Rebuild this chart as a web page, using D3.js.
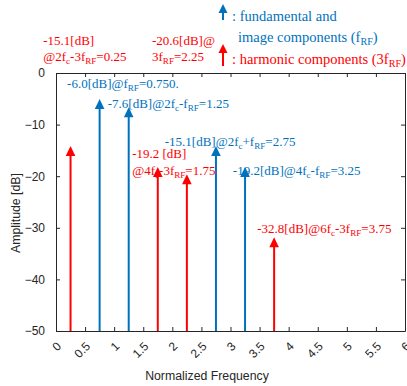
<!DOCTYPE html>
<html>
<head>
<meta charset="utf-8">
<script src="https://cdn.jsdelivr.net/npm/d3@7"></script>
<style>
  body { margin: 0; background: #fff; }
  .axis text { font-family: "Liberation Sans", Arial, sans-serif; font-size: 12px; fill: #262626; }
  .axis path, .axis line { stroke: #262626; }
  .ann { font-family: "Liberation Serif", "Times New Roman", serif; font-size: 13px; }
</style>
</head>
<body>
<svg id="chart"></svg>
<script>
// spectral components
const freqs = [0.25, 0.75, 1.25, 1.75, 2.25, 2.75, 3.25, 3.75];
const amps = [-15.1, -6.0, -7.6, -19.2, -20.6, -15.1, -19.2, -32.8];
const kinds = ['harm', 'fund', 'fund', 'harm', 'harm', 'fund', 'fund', 'harm'];

const xTicks = [0, 0.5, 1, 1.5, 2, 2.5, 3, 3.5, 4, 4.5, 5, 5.5, 6];
const xTickLabels = ['0', '0.5', '1', '1.5', '2', '2.5', '3', '3.5', '4', '4.5', '5', '5.5', '6'];
const yTicks = [0, -10, -20, -30, -40, -50];

// annotations ("_{..}" = subscript), anchored in data units
const annText = [
  '-15.1[dB]', '@2f_{c}-3f_{RF}=0.25',
  '-20.6[dB]@', '3f_{RF}=2.25',
  '-6.0[dB]@f_{RF}=0.750.',
  '-7.6[dB]@2f_{c}-f_{RF}=1.25',
  '-15.1[dB]@2f_{c}+f_{RF}=2.75',
  '-19.2 [dB]', '@4f_{c}-3f_{RF}=1.75',
  '-19.2[dB]@4f_{c}-f_{RF}=3.25',
  '-32.8[dB]@6f_{c}-3f_{RF}=3.75'
];
const annKind = ['harm', 'harm', 'harm', 'harm', 'fund', 'fund', 'fund', 'harm', 'harm', 'fund', 'harm'];
const annX = [-0.22, -0.22, 1.65, 1.65, 0.19, 0.89, 1.87, 1.31, 1.31, 3.04, 3.46];
const annY = [5.4, 2.3, 5.4, 2.3, -2.9, -6.8, -14.1, -16.5, -19.8, -19.8, -31.0];

const legendText = [': fundamental and', 'image components (f_{RF})', ': harmonic components (3f_{RF})'];

const colors = { fund: '#0072BD', harm: '#FF0000' };

const W = 407, H = 386;
const margin = { top: 73, right: 2, bottom: 55, left: 56 };
const width = W - margin.left - margin.right;
const height = H - margin.top - margin.bottom;

const svg = d3.select('#chart').attr('width', W).attr('height', H);
const g = svg.append('g').attr('transform', `translate(${margin.left},${margin.top})`);

const x = d3.scaleLinear().domain([0, 6]).range([0, width]);
const y = d3.scaleLinear().domain([-50, 0]).range([height, 0]);

// write text with _{sub} markup as tspans
function richText(sel, str, size) {
  const parts = str.split(/(_\{[^}]*\})/).filter(s => s.length);
  let sub = false;
  parts.forEach(p => {
    if (p.startsWith('_{')) {
      sel.append('tspan').attr('dy', 3).style('font-size', (size * 0.7) + 'px').text(p.slice(2, -1));
      sub = true;
    } else {
      sel.append('tspan').attr('dy', sub ? -3 : 0).text(p);
      sub = false;
    }
  });
}

// axes, MATLAB box style with inward ticks
const tl = 4;
g.append('g').attr('class', 'axis').attr('transform', `translate(0,${height})`)
  .call(d3.axisBottom(x).tickValues(xTicks).tickSizeInner(-tl).tickSizeOuter(0).tickFormat(''));
g.append('g').attr('class', 'axis')
  .call(d3.axisTop(x).tickValues(xTicks).tickSizeInner(-tl).tickSizeOuter(0).tickFormat(''));
g.append('g').attr('class', 'axis')
  .call(d3.axisLeft(y).tickValues(yTicks).tickSizeInner(-tl).tickSizeOuter(0).tickPadding(11));
g.append('g').attr('class', 'axis').attr('transform', `translate(${width},0)`)
  .call(d3.axisRight(y).tickValues(yTicks).tickSizeInner(-tl).tickSizeOuter(0).tickFormat(''));

// rotated x tick labels
g.selectAll('.xlab').data(xTicks).enter().append('text')
  .attr('class', 'xlab')
  .attr('transform', d => `translate(${x(d) + 6},${height + 16}) rotate(-45)`)
  .attr('text-anchor', 'end')
  .style('font-family', '"Liberation Sans", Arial, sans-serif')
  .style('font-size', '12px').style('fill', '#262626')
  .text((d, i) => xTickLabels[i]);

// arrows
const tip = 5;
g.selectAll('.stem').data(freqs).enter().append('line')
  .attr('x1', d => x(d)).attr('x2', d => x(d))
  .attr('y1', y(-50)).attr('y2', (d, i) => y(amps[i]))
  .attr('stroke', (d, i) => colors[kinds[i]]).attr('stroke-width', 2);
g.selectAll('.head').data(freqs).enter().append('path')
  .attr('d', (d, i) => {
    const cx = x(d), ty = y(amps[i]) - tip;
    return `M${cx},${ty} L${cx - 4.8},${ty + 10} L${cx + 4.8},${ty + 10} Z`;
  })
  .attr('fill', (d, i) => colors[kinds[i]]);

// annotations
annText.forEach((t, i) => {
  const el = g.append('text').attr('class', 'ann')
    .attr('x', x(annX[i])).attr('y', y(annY[i]))
    .style('fill', colors[annKind[i]]);
  richText(el, t, 13);
});

// axis titles
svg.append('text')
  .attr('transform', `translate(20,${margin.top + 140}) rotate(-90)`)
  .attr('text-anchor', 'middle')
  .style('font-family', '"Liberation Sans", Arial, sans-serif').style('font-size', '12.3px').style('fill', '#262626')
  .text('Amplitude [dB]');
svg.append('text')
  .attr('x', 207).attr('y', 380)
  .attr('text-anchor', 'middle')
  .style('font-family', '"Liberation Sans", Arial, sans-serif').style('font-size', '12.3px').style('fill', '#262626')
  .text('Normalized Frequency');

// legend
function legendArrow(cx, y0, y1, col) {
  svg.append('line').attr('x1', cx).attr('x2', cx).attr('y1', y1).attr('y2', y0 + 6)
    .attr('stroke', col).attr('stroke-width', 2);
  svg.append('path').attr('d', `M${cx},${y0} L${cx - 4.5},${y0 + 9} L${cx + 4.5},${y0 + 9} Z`).attr('fill', col);
}
legendArrow(223, 4, 20, colors.fund);
legendArrow(223, 44, 66, colors.harm);
const legX = [232, 238, 232];
const legY = [21, 42, 64];
const legC = [colors.fund, colors.fund, colors.harm];
legendText.forEach((t, i) => {
  const el = svg.append('text').attr('class', 'ann').style('font-size', '14.5px')
    .attr('x', legX[i]).attr('y', legY[i]).style('fill', legC[i]);
  richText(el, t, 14.5);
});
</script>
</body>
</html>
